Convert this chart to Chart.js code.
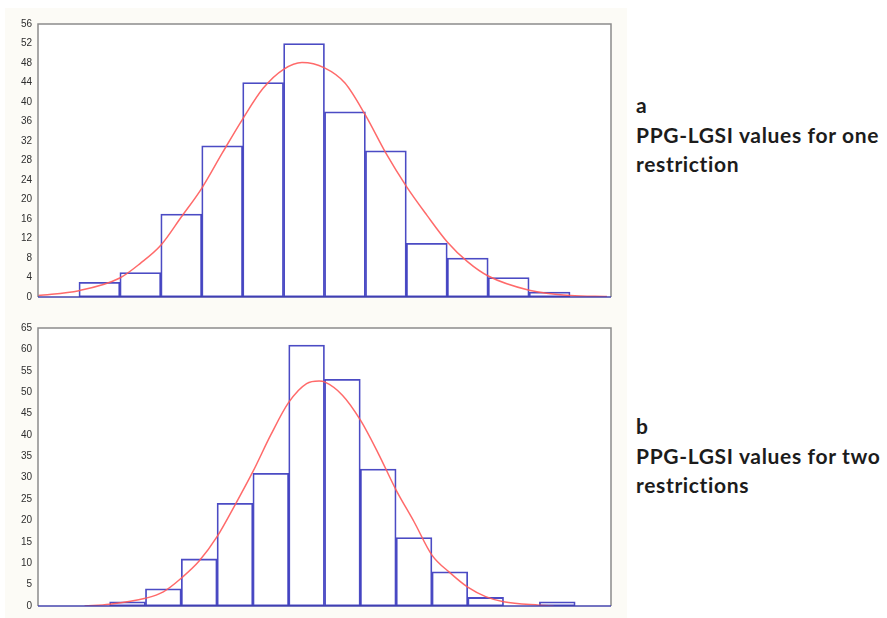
<!DOCTYPE html>
<html>
<head>
<meta charset="utf-8">
<script src="https://cdn.jsdelivr.net/npm/chart.js@4.4.1/dist/chart.umd.min.js"></script>
<style>
  html, body { margin: 0; padding: 0; background: #ffffff; }
  body { width: 887px; height: 618px; position: relative; overflow: hidden; }
  .panel { position: absolute; left: 5px; top: 8px; width: 622px; height: 610px; background: #fcfbf6; }
  .box { position: absolute; left: 0; }
  .note { position: absolute; left: 636px; font-family: Lato, "Open Sans", sans-serif; font-weight: 700;
          font-size: 21px; letter-spacing: 0.65px; line-height: 29.5px; color: #1c1c1c; white-space: nowrap; }
</style>
</head>
<body>
<div class="panel"></div>
<div class="box" style="top:0;width:625px;height:310px"><canvas id="chartA"></canvas></div>
<div class="box" style="top:310px;width:625px;height:308px"><canvas id="chartB"></canvas></div>
<div class="note" style="top:90px">a<br>PPG-LGSI values for one<br>restriction</div>
<div class="note" style="top:411px">b<br>PPG-LGSI values for two<br>restrictions</div>

<script>
// (a) one restriction: 14 equal bins
const binsA = [0, 3, 5, 17, 31, 44, 52, 38, 30, 11, 8, 4, 1, 0];
// fitted curve (x in bin units)
const curveAX = [0, 1, 2, 2.5, 3, 3.5, 4, 4.5, 5, 5.5, 6, 6.45, 7, 7.5, 8, 8.5, 9, 9.5, 10, 10.5, 11, 12, 13, 13.9];
const curveAY = [0.3, 1.3, 3.9, 6.9, 10.6, 16.4, 22.3, 29.5, 36.5, 42.8, 46.7, 48.1, 47, 43.9, 37.3, 29.5, 22.7, 16.8, 11.3, 7.2, 4.3, 1.4, 0.3, 0.1];
const yMaxA = 56, yStepA = 4;

// (b) two restrictions: 16 equal bins
const binsB = [0, 0, 1, 4, 11, 24, 31, 61, 53, 32, 16, 8, 2, 0, 1, 0];
const curveBX = [1.3, 2, 3, 3.5, 4, 4.5, 5, 5.5, 6, 6.5, 7, 7.5, 7.85, 8, 8.5, 9, 9.5, 10, 10.5, 11, 11.5, 12, 12.5, 13, 14, 14.4];
const curveBY = [0, 0.4, 1.8, 3.3, 6.5, 10.5, 16.2, 23.6, 31.4, 40, 47.6, 52, 52.6, 52.4, 49.3, 43.5, 35.7, 27.1, 19.7, 11.9, 7.8, 4.4, 2.2, 1, 0.2, 0];
const yMaxB = 65, yStepB = 5;

const BAR_BLUE = 'rgba(55,55,190,0.9)';
const CURVE_RED = 'rgba(255,90,90,0.9)';
const FRAME = '#8c8c8c';

const framePlugin = {
    id: 'frame',
    beforeDatasetsDraw(chart) {
        const { ctx, chartArea: a } = chart;
        ctx.save();
        ctx.fillStyle = '#ffffff';
        ctx.fillRect(a.left, a.top, a.right - a.left, a.bottom - a.top);
        ctx.restore();
    },
    afterDraw(chart) {
        const { ctx, chartArea: a } = chart;
        ctx.save();
        ctx.lineWidth = 1.5;
        ctx.strokeStyle = FRAME;
        ctx.beginPath();
        ctx.moveTo(a.left, a.bottom);
        ctx.lineTo(a.left, a.top);
        ctx.lineTo(a.right, a.top);
        ctx.lineTo(a.right, a.bottom);
        ctx.stroke();
        ctx.strokeStyle = 'rgba(60,60,170,0.95)';
        ctx.beginPath();
        ctx.moveTo(a.left, a.bottom);
        ctx.lineTo(a.right, a.bottom);
        ctx.stroke();
        ctx.restore();
    }
};

function makeHist(id, bins, cx, cy, yMax, step, pad) {
    const barPts = bins.map((v, i) => ({ x: i + 0.5, y: v }));
    const curvePts = cx.map((x, i) => ({ x: x, y: cy[i] }));
    return new Chart(document.getElementById(id), {
        type: 'bar',
        data: {
            datasets: [
                { type: 'line', data: curvePts, borderColor: CURVE_RED, borderWidth: 1.5, pointRadius: 0,
                  cubicInterpolationMode: 'monotone', fill: false, order: 0 },
                { type: 'bar', data: barPts, backgroundColor: 'rgba(255,255,255,0)', borderColor: BAR_BLUE,
                  borderWidth: 1.1, borderSkipped: false, barPercentage: 1, categoryPercentage: 1, order: 1 }
            ]
        },
        options: {
            responsive: true, maintainAspectRatio: false, animation: false,
            layout: { padding: pad },
            plugins: { legend: { display: false }, tooltip: { enabled: false } },
            scales: {
                x: { type: 'linear', min: 0, max: bins.length, offset: false, display: true,
                     ticks: { display: false }, grid: { display: false, drawTicks: false }, border: { display: false },
                     afterFit(s) { s.height = 0; } },
                y: { min: 0, max: yMax,
                     ticks: { stepSize: step, padding: 6, color: '#2e2e2e', font: { family: 'Liberation Sans, Arial', size: 10 } },
                     grid: { display: false, drawTicks: false }, border: { display: false },
                     afterFit(s) { s.width = 38; } }
            }
        },
        plugins: [framePlugin]
    });
}

makeHist('chartA', binsA, curveAX, curveAY, yMaxA, yStepA, { left: 0, right: 14, top: 24, bottom: 13 });
makeHist('chartB', binsB, curveBX, curveBY, yMaxB, yStepB, { left: 0, right: 14, top: 18, bottom: 9 });
</script>
</body>
</html>
